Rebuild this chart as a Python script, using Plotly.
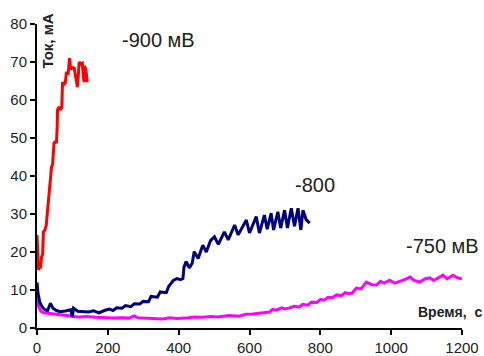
import plotly.graph_objects as go

# -900 mV series
t_900 = [0, 2, 4, 7, 10, 13, 16, 18, 22, 26, 30, 32, 36, 39, 41, 44, 46, 48, 52, 55,
         57, 58, 62, 65, 70, 72, 75, 80, 83, 85, 88, 90, 92, 95, 100, 105, 110, 114,
         117, 119, 124, 128, 131, 133, 134, 138, 142]
i_900 = [24.5, 20, 15.3, 16, 15.8, 18.7, 19.5, 25.3, 25.7, 27, 31, 34.5, 37, 40.7, 42.4,
         43, 45, 48.7, 49, 48.7, 53, 57.4, 58.2, 57.4, 58, 64.7, 64, 64.5, 67.4, 67, 67,
         70, 71, 68, 68.5, 68.4, 66, 63.4, 67, 70, 69.5, 69.7, 66, 64.7, 69, 68, 64.7]

# -800 mV series
t_800 = [0, 3, 8, 15, 22, 30, 38, 45, 55, 65, 80, 95, 100, 103, 115, 130, 145, 160, 175,
         190, 205, 215, 225, 240, 250, 265, 275, 290, 300, 315, 322, 340, 348, 365, 372,
         385, 395, 405, 412, 415, 421, 430, 438, 444, 455, 468, 478, 490, 501, 512, 529,
         540, 558, 568, 591, 600, 619, 628, 642, 650, 661, 668, 680, 688, 699, 707, 718,
         727, 737, 745, 751, 760, 770]
i_800 = [12.0, 9.0, 6.8, 5.5, 4.8, 4.6, 6.5, 5.2, 4.6, 4.3, 4.5, 4.8, 3.0, 5.2, 4.4, 4.3,
         4.2, 4.5, 4.0, 4.6, 5.0, 4.6, 5.3, 5.2, 5.9, 5.6, 6.4, 6.3, 7.0, 6.9, 8.3, 8.1,
         9.5, 9.3, 11.0, 12.5, 13.0, 12.7, 13.0, 16.0, 17.5, 15.8, 17.0, 20.1, 18.3, 21.8,
         20.0, 23.0, 24.0, 22.0, 25.3, 23.2, 27.1, 24.5, 28.4, 25.0, 29.3, 25.0, 29.7,
         26.0, 30.2, 25.8, 30.6, 26.3, 31.0, 26.3, 31.5, 26.8, 31.5, 25.8, 31.0, 28.5, 27.6]

# -750 mV series
t_750 = [0, 2, 5, 10, 14, 20, 34, 50, 71, 90, 100, 119, 140, 167, 190, 215, 240, 260, 275,
         285, 300, 330, 354, 375, 393, 420, 445, 467, 490, 510, 543, 570, 590, 609, 630,
         657, 665, 676, 690, 700, 713, 725, 740, 750, 765, 775, 790, 800, 812, 821, 835,
         846, 860, 870, 880, 890, 902, 915, 930, 945, 958, 970, 980, 996, 1010, 1024, 1040,
         1053, 1065, 1081, 1095, 1109, 1120, 1135, 1146, 1158, 1174, 1185, 1200]
i_750 = [8.5, 6.5, 5.5, 4.6, 4.2, 4.0, 3.8, 3.6, 3.4, 3.2, 3.0, 2.9, 3.0, 2.8, 2.7, 2.6,
         2.7, 2.6, 3.2, 2.7, 2.6, 2.5, 2.4, 2.7, 2.5, 2.6, 2.9, 2.8, 3.0, 2.9, 3.3, 3.1,
         3.6, 3.7, 3.9, 4.2, 4.9, 4.7, 5.3, 5.0, 5.3, 5.7, 5.5, 6.2, 6.0, 6.8, 6.7, 7.5,
         7.4, 8.0, 8.0, 8.7, 8.5, 9.3, 9.0, 9.2, 10.5, 10.3, 12.1, 11.4, 11.3, 12.3, 11.8,
         12.6, 11.8, 12.2, 12.8, 13.4, 12.5, 12.1, 12.9, 13.2, 12.5, 13.3, 13.9, 12.9, 13.9,
         13.3, 12.9]

x_ticks = [0, 200, 400, 600, 800, 1000, 1200]
y_ticks = [0, 10, 20, 30, 40, 50, 60, 70, 80]

FONT = "Liberation Sans, Arial, sans-serif"
TXT = "#222222"

fig = go.Figure()
fig.add_trace(go.Scatter(x=t_750, y=i_750, mode="lines",
                         line=dict(color="#FF00FF", width=3), showlegend=False))
fig.add_trace(go.Scatter(x=t_800, y=i_800, mode="lines",
                         line=dict(color="#000080", width=3), showlegend=False))
fig.add_trace(go.Scatter(x=t_900, y=i_900, mode="lines",
                         line=dict(color="#FF0000", width=3), showlegend=False))

ann = [
    dict(x=234, y=75.8, text="-900 мВ", xanchor="left", yanchor="middle",
         font=dict(size=20, color=TXT, family=FONT)),
    dict(x=722, y=37.6, text="-800", xanchor="left", yanchor="middle",
         font=dict(size=20, color=TXT, family=FONT)),
    dict(x=1035, y=21.6, text="-750 мВ", xanchor="left", yanchor="middle",
         font=dict(size=20, color=TXT, family=FONT)),
    dict(x=1070, y=4.2, text="<b>Время,  с</b>", xanchor="left", yanchor="middle",
         font=dict(size=14, color=TXT, family=FONT)),
    dict(x=29.5, y=75.5, text="<b>Ток, мА</b>", textangle=-90, xanchor="center",
         yanchor="middle", font=dict(size=15, color=TXT, family=FONT)),
]
for a in ann:
    a.update(showarrow=False, xref="x", yref="y")

fig.update_layout(
    width=484, height=356,
    margin=dict(l=37, r=22, t=24, b=28, pad=0),
    paper_bgcolor="white", plot_bgcolor="white",
    annotations=ann,
    font=dict(family=FONT, color=TXT, size=15),
)
fig.update_xaxes(range=[0, 1200], tickvals=x_ticks, showgrid=False, zeroline=False,
                 showline=True, linecolor="black", linewidth=2, ticks="outside",
                 ticklen=5, tickwidth=2, tickcolor="black", automargin=False,
                 tickfont=dict(size=15, color=TXT, family=FONT))
fig.update_yaxes(range=[0, 80], tickvals=y_ticks, showgrid=False, zeroline=False,
                 showline=True, linecolor="black", linewidth=2, ticks="outside",
                 ticklen=5, tickwidth=2, tickcolor="black", automargin=False,
                 tickfont=dict(size=15, color=TXT, family=FONT))

fig.write_html("out.html", config={"displayModeBar": False},
               post_script="document.body.style.margin='0';document.body.style.overflow='hidden';")
